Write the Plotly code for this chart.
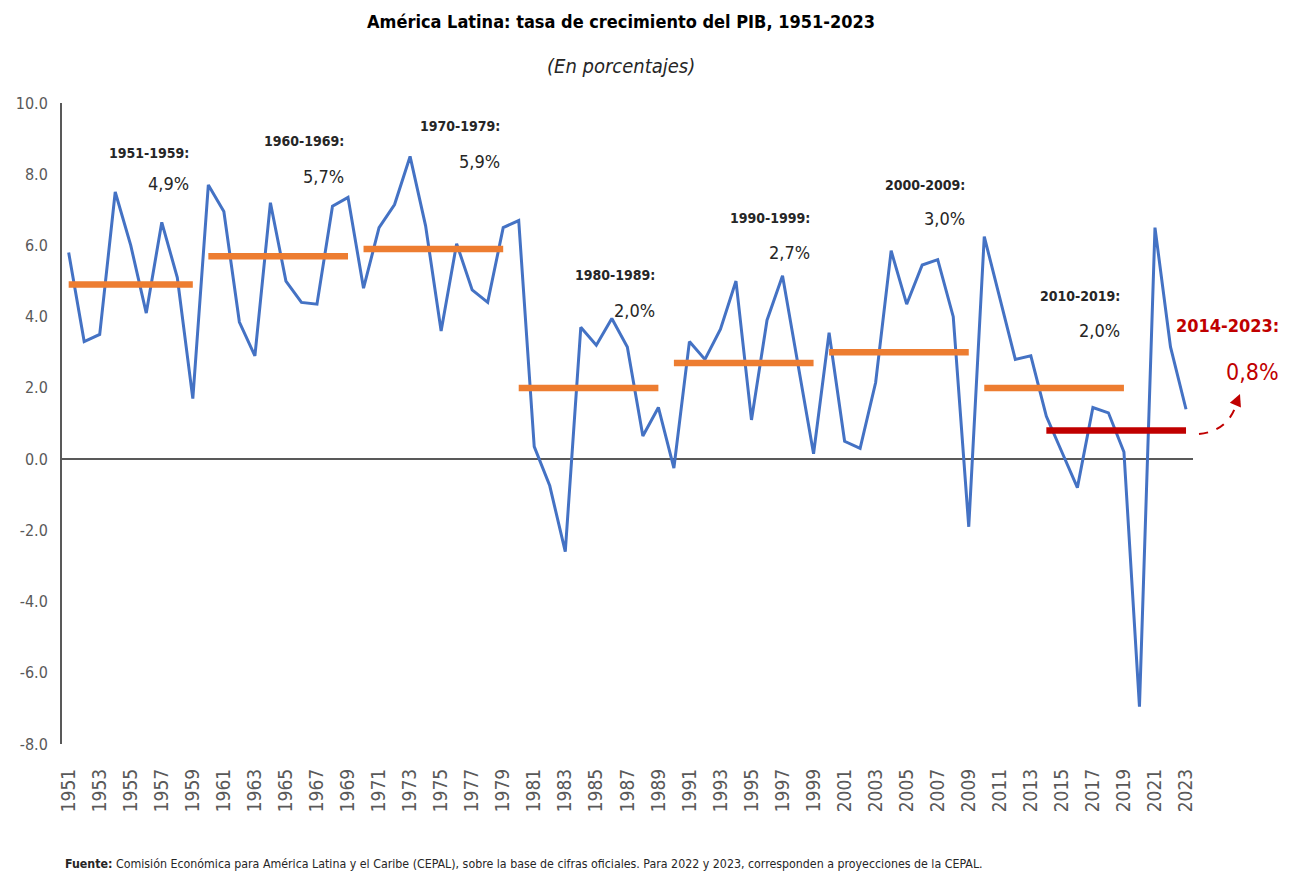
import plotly.graph_objects as go

# América Latina: tasa de crecimiento del PIB (%), 1951-2023
years = list(range(1951, 2024))
growth = [5.8, 3.3, 3.5, 7.5, 6.0, 4.1, 6.65, 5.1, 1.7,
          7.7, 6.95, 3.85, 2.9, 7.2, 5.0, 4.4, 4.35, 7.1, 7.35,
          4.8, 6.5, 7.15, 8.5, 6.55, 3.6, 6.05, 4.75, 4.4, 6.5,
          6.7, 0.35, -0.75, -2.6, 3.7, 3.2, 3.95, 3.15, 0.65, 1.45,
          -0.25, 3.3, 2.8, 3.65, 5.0, 1.1, 3.9, 5.15, 2.6, 0.15,
          3.55, 0.5, 0.3, 2.15, 5.85, 4.35, 5.45, 5.6, 4.0, -1.9,
          6.25, 4.5, 2.8, 2.9, 1.2, 0.2, -0.8, 1.45, 1.3, 0.2,
          -6.95, 6.5, 3.15, 1.4]

# promedios por decenio
period_names = ["1951-1959:", "1960-1969:", "1970-1979:", "1980-1989:",
                "1990-1999:", "2000-2009:", "2010-2019:"]
period_start = [1951, 1960, 1970, 1980, 1990, 2000, 2010]
period_end = [1959, 1969, 1979, 1989, 1999, 2009, 2019]
period_avg = [4.9, 5.7, 5.9, 2.0, 2.7, 3.0, 2.0]
period_text = ["4,9%", "5,7%", "5,9%", "2,0%", "2,7%", "3,0%", "2,0%"]

last_name = "2014-2023:"
last_start, last_end = 2014, 2023
last_avg = 0.8
last_text = "0,8%"

y_ticks = [-8, -6, -4, -2, 0, 2, 4, 6, 8, 10]
y_ticktext = ["-8.0", "-6.0", "-4.0", "-2.0", "0.0", "2.0", "4.0", "6.0", "8.0", "10.0"]

# where the decade labels sit (y, data units)
label_y = [8.6, 8.93, 9.35, 5.17, 6.78, 7.71, 4.58]
value_y = [7.74, 7.94, 8.36, 4.18, 5.79, 6.75, 3.62]

FONT = "Liberation Sans Narrow, DejaVu Sans Condensed, Arial Narrow, sans-serif"
TXT = "#262626"
GRAY = "#595959"
BLUE = "#4472C4"
ORANGE = "#ED7D31"
RED = "#C00000"

W, H = 1299, 878
L, R, T, B = 54, 114, 95, 142
OFF = 8  # page margin of the html body


def px(x):
    # screen pixel -> paper x
    return (x - OFF - L) / (W - L - R)


def py(y):
    # screen pixel -> paper y
    return (H - B - (y - OFF)) / (H - T - B)


fig = go.Figure()

fig.add_trace(go.Scatter(x=years, y=growth, mode="lines",
                         line=dict(color=BLUE, width=3), showlegend=False))

for s, e, a in zip(period_start, period_end, period_avg):
    fig.add_trace(go.Scatter(x=[s, e], y=[a, a], mode="lines",
                             line=dict(color=ORANGE, width=6.5), showlegend=False))

fig.add_trace(go.Scatter(x=[last_start, last_end], y=[last_avg, last_avg], mode="lines",
                         line=dict(color=RED, width=6.5), showlegend=False))

ann = []
for i in range(len(period_names)):
    ann.append(dict(x=period_end[i] - 0.1, y=label_y[i], xref="x", yref="y",
                    text="<b>" + period_names[i] + "</b>", showarrow=False,
                    xanchor="right", yanchor="middle",
                    font=dict(family=FONT, size=14, color=TXT)))
    ann.append(dict(x=period_end[i] - 0.1, y=value_y[i], xref="x", yref="y",
                    text=period_text[i], showarrow=False,
                    xanchor="right", yanchor="middle",
                    font=dict(family=FONT, size=18, color=TXT)))

ann.append(dict(x=px(1281), y=py(325), xref="paper", yref="paper",
                text="<b>" + last_name + "</b>", showarrow=False,
                xanchor="right", yanchor="middle",
                font=dict(family=FONT, size=18, color=RED)))
ann.append(dict(x=px(1281), y=py(372), xref="paper", yref="paper",
                text=last_text, showarrow=False,
                xanchor="right", yanchor="middle",
                font=dict(family=FONT, size=23, color=RED)))

# arrowhead for the curved arrow
ann.append(dict(x=px(1240), y=py(394), xref="paper", yref="paper",
                ax=-5, ay=12, axref="pixel", ayref="pixel",
                text="", showarrow=True, arrowhead=2, arrowsize=1.2, arrowwidth=2,
                arrowcolor=RED))

ann.append(dict(x=px(621), y=py(22), xref="paper", yref="paper",
                xanchor="center", yanchor="middle",
                text="<b>América Latina: tasa de crecimiento del PIB, 1951-2023</b>",
                showarrow=False, font=dict(family=FONT, size=18, color="#000000")))
ann.append(dict(x=px(621), y=py(66), xref="paper", yref="paper",
                xanchor="center", yanchor="middle",
                text="<i>(En porcentajes)</i>",
                showarrow=False, font=dict(family=FONT, size=20, color=TXT)))
ann.append(dict(x=px(63), y=py(864), xref="paper", yref="paper",
                xanchor="left", yanchor="middle",
                text="<b>Fuente:</b> Comisión Económica para América Latina y el Caribe (CEPAL), "
                     "sobre la base de cifras oficiales. Para 2022 y 2023, corresponden a "
                     "proyecciones de la CEPAL.",
                showarrow=False, font=dict(family=FONT, size=12.3, color=TXT)))

fig.update_layout(
    width=W, height=H,
    margin=dict(l=L, r=R, t=T, b=B, autoexpand=False),
    plot_bgcolor="white", paper_bgcolor="white",
    annotations=ann,
    shapes=[dict(type="path", xref="paper", yref="paper",
                 path="M {} {} Q {} {} {} {}".format(px(1199), py(434), px(1229), py(431),
                                                   px(1237), py(402)),
                 line=dict(color=RED, width=2, dash="dash"))],
)

fig.update_xaxes(range=[1950.57, 2023.45], tickvals=years[::2], tickangle=-90,
                 showgrid=False, showline=False, ticks="", ticklabelstandoff=20,
                 automargin=False,
                 tickfont=dict(family=FONT, size=19, color=GRAY))
fig.update_yaxes(range=[-8, 10], tickvals=y_ticks, ticktext=y_ticktext, showgrid=False,
                 showline=True, linecolor=GRAY, linewidth=2,
                 zeroline=True, zerolinecolor=GRAY, zerolinewidth=2,
                 ticks="", ticklabelstandoff=9, automargin=False,
                 tickfont=dict(family=FONT, size=16, color=GRAY))

fig.write_html("out.html")
